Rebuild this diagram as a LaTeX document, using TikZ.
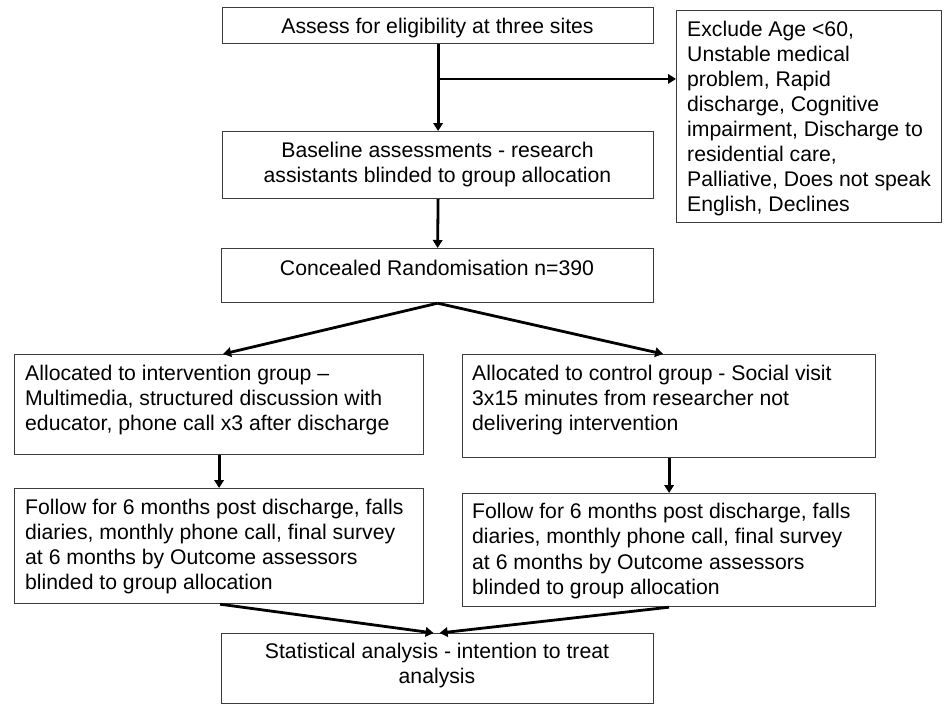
\documentclass[tikz,border=0pt]{standalone}
\usepackage{fontspec}
\setmainfont{Liberation Sans}
\usetikzlibrary{arrows.meta,calc}
\definecolor{boxgray}{RGB}{60,60,60}
\newcommand{\mylt}[2]{\parbox[t]{#1}{\raggedright #2}}
\newcommand{\myct}[2]{\parbox[t]{#1}{\centering #2}}
\begin{document}
\begin{tikzpicture}[x=1pt,y=-1pt,
  box/.style={draw=boxgray,line width=1.2pt,rectangle,inner sep=0pt,anchor=north west},
  txt/.style={inner sep=0pt,font=\fontsize{21.2pt}{25.3pt}\selectfont,text=black},
  conn/.style={line width=2.8pt,-{Triangle[length=8pt,width=9.5pt]}}]
\useasboundingbox (0,0) rectangle (946,704);
% boxes
\node[box,minimum width=431pt,minimum height=36pt] (A) at (222,7) {};
\node[box,minimum width=431pt,minimum height=67pt] (B) at (222,131) {};
\node[box,minimum width=265pt,minimum height=212pt] (E) at (676,10) {};
\node[box,minimum width=432pt,minimum height=54pt] (C) at (221,248) {};
\node[box,minimum width=409pt,minimum height=100pt] (L1) at (14,354) {};
\node[box,minimum width=413pt,minimum height=103pt] (R1) at (462,354) {};
\node[box,minimum width=409pt,minimum height=115pt] (L2) at (14,488) {};
\node[box,minimum width=413pt,minimum height=113pt] (R2) at (462,493) {};
\node[box,minimum width=432pt,minimum height=70pt] (S) at (221,633) {};
% texts
\node[txt,anchor=base] (At) at (437.5,34) {Assess for eligibility at three sites};
\node[txt,anchor=base] (Bt) at (437.5,157) {\myct{425pt}{Baseline assessments - research\\assistants blinded to group allocation}};
\node[txt,anchor=base west,font=\fontsize{21.2pt}{25pt}\selectfont] (Et) at (687,36.5) {\mylt{300pt}{Exclude Age <60,\\Unstable medical\\problem, Rapid\\discharge, Cognitive\\impairment, Discharge to\\residential care,\\Palliative, Does not speak\\English, Declines}};
\node[txt,anchor=base] (Ct) at (437,275) {Concealed Randomisation n=390};
\node[txt,anchor=base west] (L1t) at (25,380) {\mylt{440pt}{Allocated to intervention group --\\Multimedia, structured discussion with\\educator, phone call x3 after discharge}};
\node[txt,anchor=base west] (R1t) at (472,380) {\mylt{440pt}{Allocated to control group - Social visit\\3x15 minutes from researcher not\\delivering intervention}};
\node[txt,anchor=base west] (L2t) at (25,514) {\mylt{440pt}{Follow for 6 months post discharge, falls\\diaries, monthly phone call, final survey\\at 6 months by Outcome assessors\\blinded to group allocation}};
\node[txt,anchor=base west] (R2t) at (472,518.5) {\mylt{440pt}{Follow for 6 months post discharge, falls\\diaries, monthly phone call, final survey\\at 6 months by Outcome assessors\\blinded to group allocation}};
\node[txt,anchor=base] (St) at (437,658.3) {\myct{425pt}{Statistical analysis - intention to treat\\analysis}};
% connectors
\coordinate (br) at ($(A.south)!0.4!(B.north)$);
\draw[conn] (A.south) -- (B.north);
\draw[conn] (br) -- (br -| E.west);
\draw[conn] (B.south) -- (C.north);
\draw[conn] (C.south) -- ([xshift=4pt]L1.north);
\draw[conn] (C.south) -- ([xshift=-6pt]R1.north);
\draw[conn] (L1.south) -- (L2.north);
\draw[conn] (R1.south) -- (R2.north);
\draw[conn] ([xshift=1pt]L2.south) -- ([xshift=-4pt]S.north);
\draw[conn] (R2.south) -- ([xshift=2pt]S.north);
\end{tikzpicture}
\end{document}
